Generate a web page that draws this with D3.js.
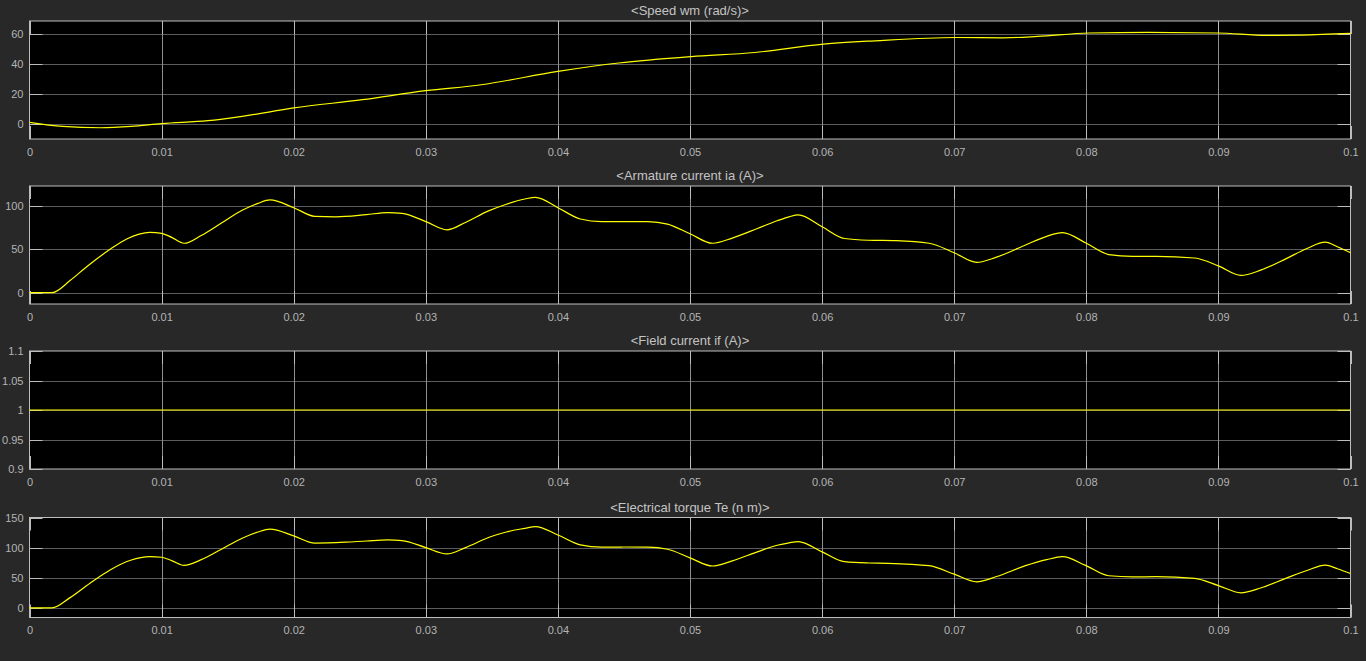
<!DOCTYPE html>
<html>
<head>
<meta charset="utf-8">
<script src="https://cdn.jsdelivr.net/npm/d3@7/dist/d3.min.js"></script>
<style>
  html, body { margin: 0; padding: 0; background: #282828; }
  svg { display: block; }
</style>
</head>
<body>
<svg id="chart" width="1366" height="661"></svg>
<script>
// ---------- data ----------
const titles = ["<Speed wm (rad/s)>", "<Armature current ia (A)>", "<Field current if (A)>", "<Electrical torque Te (n m)>"];
const xTicks = [0, 0.01, 0.02, 0.03, 0.04, 0.05, 0.06, 0.07, 0.08, 0.09, 0.1];
const xTickLabels = ["0", "0.01", "0.02", "0.03", "0.04", "0.05", "0.06", "0.07", "0.08", "0.09", "0.1"];

const speedT = [0, 0.0025, 0.0054, 0.0077, 0.01, 0.0135, 0.0161, 0.02, 0.0252, 0.03, 0.0342, 0.04, 0.0446, 0.0501, 0.0549, 0.0601, 0.064, 0.0701, 0.0737, 0.0763, 0.0802, 0.0847, 0.0899, 0.0937, 0.0963, 0.1];
const speedV = [1.1, -1.6, -2.5, -1.6, 0.3, 2.2, 5.1, 10.7, 16.2, 22.2, 26.2, 35.1, 40.7, 45, 47.7, 53.3, 55.5, 57.7, 57.5, 58.4, 60.7, 61.1, 60.7, 59.1, 59.3, 60.4];
const speedTicks = [0, 20, 40, 60];

const iaT = [0, 0.0017, 0.00307, 0.00433, 0.0061, 0.00736, 0.0083, 0.0091, 0.01, 0.0108, 0.0117,
  0.013, 0.0145, 0.0161, 0.0173, 0.0182,
  0.02, 0.0216, 0.0232, 0.0255, 0.0271, 0.0282, 0.03, 0.0316,
  0.033, 0.0347, 0.0361, 0.0375, 0.0383,
  0.04, 0.0417, 0.0433, 0.045, 0.0468, 0.0483, 0.05, 0.0517,
  0.0532, 0.0551, 0.0566, 0.0575, 0.0582,
  0.06, 0.0617, 0.0635, 0.0656, 0.0681, 0.07, 0.0717,
  0.0732, 0.0754, 0.077, 0.0782,
  0.08, 0.0817, 0.0835, 0.0853, 0.0882, 0.09, 0.0917,
  0.0932, 0.0951, 0.0967, 0.0981, 0.099, 0.1];
const iaV = [0, 0, 14, 30, 50, 62, 67.5, 69.5, 68.5, 63.5, 57,
  66, 80, 95, 103, 107,
  98, 88, 87.5, 90, 92.3, 91.5, 82, 72.5,
  81, 94, 102, 108, 110,
  98, 85, 82, 82, 82, 79, 68, 57,
  63, 74, 83, 87.5, 89.7,
  76, 62.5, 60.5, 60, 57, 46, 35,
  41, 55, 65, 69.3,
  57, 44, 42, 42, 40, 31, 20,
  26, 39, 51, 58.2, 53, 46];
const iaTicks = [0, 50, 100];

const fieldT = [0, 0.1];
const fieldV = [1, 1];
const fieldTicks = [0.9, 0.95, 1, 1.05, 1.1];

const teT = [0, 0.0017, 0.00307, 0.00458, 0.0061, 0.00765, 0.0091, 0.01, 0.0108, 0.0117,
  0.013, 0.0145, 0.0161, 0.0173, 0.0182,
  0.02, 0.0216, 0.0239, 0.0255, 0.0271, 0.0282, 0.03, 0.0316,
  0.033, 0.0349, 0.0361, 0.0375, 0.0383,
  0.04, 0.0417, 0.0433, 0.045, 0.0468, 0.0483, 0.05, 0.0517,
  0.0532, 0.0551, 0.0566, 0.0575, 0.0582,
  0.06, 0.0617, 0.0635, 0.065, 0.0681, 0.07, 0.0717,
  0.0732, 0.0754, 0.077, 0.0782,
  0.0799, 0.0817, 0.0835, 0.0853, 0.0882, 0.09, 0.0917,
  0.0932, 0.0951, 0.0967, 0.0981, 0.099, 0.1];
const teV = [0, 0, 17, 41, 63, 79, 85, 84, 78, 70.5,
  80, 97, 115.6, 126, 130.6,
  119.5, 107.5, 109, 111, 112.8, 111.7, 100, 89.5,
  100, 118, 126, 132, 135,
  121, 104.5, 100.7, 101, 100.7, 97.3, 83, 69.5,
  78, 93, 104, 108, 110,
  93, 76.7, 74.5, 74, 70, 56, 43.3,
  52, 70, 80, 85,
  71, 53.3, 51.5, 51.7, 49, 37, 25,
  33, 49, 62, 71, 65, 57];
const teTicks = [0, 50, 100, 150];

// ---------- layout ----------
const panels = [
  { title: titles[0], t: speedT, v: speedV, ticks: speedTicks, domain: [-10, 68.7], top: 21, bottom: 139 },
  { title: titles[1], t: iaT, v: iaV, ticks: iaTicks, domain: [-13, 123], top: 186, bottom: 304 },
  { title: titles[2], t: fieldT, v: fieldV, ticks: fieldTicks, domain: [0.9, 1.1], top: 351, bottom: 469 },
  { title: titles[3], t: teT, v: teV, ticks: teTicks, domain: [-16, 150], top: 517.5, bottom: 617.5 }
];
const left = 29.5, right = 1350.5;
const svg = d3.select("#chart");
const x = d3.scaleLinear().domain([0, 0.1]).range([left, right]);
const font = "'Liberation Sans', Arial, Helvetica, sans-serif";
const tickLen = 13;

panels.forEach(p => {
  const y = d3.scaleLinear().domain(p.domain).range([p.bottom, p.top]);
  const g = svg.append("g");
  g.append("rect").attr("x", left).attr("y", p.top).attr("width", right - left).attr("height", p.bottom - p.top).attr("fill", "#000");

  // horizontal grid
  g.selectAll(".hg").data(p.ticks.filter(d => y(d) > p.top + 0.5 && y(d) < p.bottom - 0.5)).enter().append("line")
    .attr("x1", left).attr("x2", right)
    .attr("y1", d => Math.round(y(d)) + 0.5).attr("y2", d => Math.round(y(d)) + 0.5)
    .attr("stroke", "#5c5c5c").attr("stroke-width", 1);
  // vertical grid
  g.selectAll(".vg").data(xTicks.slice(1, -1)).enter().append("line")
    .attr("y1", p.top).attr("y2", p.bottom)
    .attr("x1", d => Math.round(x(d)) + 0.5).attr("x2", d => Math.round(x(d)) + 0.5)
    .attr("stroke", "#8f8f8f").attr("stroke-width", 1);

  // y tick marks
  p.ticks.forEach(d => {
    const yy = Math.round(y(d)) + 0.5;
    g.append("line").attr("x1", left).attr("x2", left + tickLen).attr("y1", yy).attr("y2", yy).attr("stroke", "#bdbdbd");
    g.append("line").attr("x1", right - tickLen).attr("x2", right).attr("y1", yy).attr("y2", yy).attr("stroke", "#bdbdbd");
  });
  // x tick marks
  xTicks.forEach(d => {
    const xx = Math.round(x(d)) + 0.5;
    g.append("line").attr("x1", xx).attr("x2", xx).attr("y1", p.top).attr("y2", p.top + tickLen).attr("stroke", "#bdbdbd");
    g.append("line").attr("x1", xx).attr("x2", xx).attr("y1", p.bottom - tickLen).attr("y2", p.bottom).attr("stroke", "#bdbdbd");
  });

  // frame
  g.append("rect").attr("x", left).attr("y", p.top).attr("width", right - left).attr("height", p.bottom - p.top)
    .attr("fill", "none").attr("stroke", "#bdbdbd").attr("stroke-width", 1);

  // axes labels via d3 axes
  const yAxis = d3.axisLeft(y).tickValues(p.ticks).tickFormat(d3.format("~g")).tickSize(0).tickPadding(6);
  const ya = g.append("g").attr("transform", `translate(${left},0)`).call(yAxis);
  const xAxis = d3.axisBottom(x).tickValues(xTicks).tickFormat((d, i) => xTickLabels[i]).tickSize(0).tickPadding(9);
  const xa = g.append("g").attr("transform", `translate(0,${p.bottom})`).call(xAxis);
  [ya, xa].forEach(a => {
    a.select(".domain").remove();
    a.selectAll("text").attr("fill", "#b4b4b4").style("font-family", font).style("font-size", "11px");
  });

  // line
  const line = d3.line().x((d, i) => x(p.t[i])).y((d, i) => y(p.v[i])).curve(d3.curveMonotoneX);
  g.append("path").datum(p.v).attr("d", line).attr("fill", "none").attr("stroke", "#ffff00").attr("stroke-width", 1.2);

  // title
  g.append("text").attr("x", (left + right) / 2).attr("y", p.top - 6).attr("text-anchor", "middle")
    .attr("fill", "#c4c4c4").style("font-family", font).style("font-size", "13px").text(p.title);
});
</script>
</body>
</html>
